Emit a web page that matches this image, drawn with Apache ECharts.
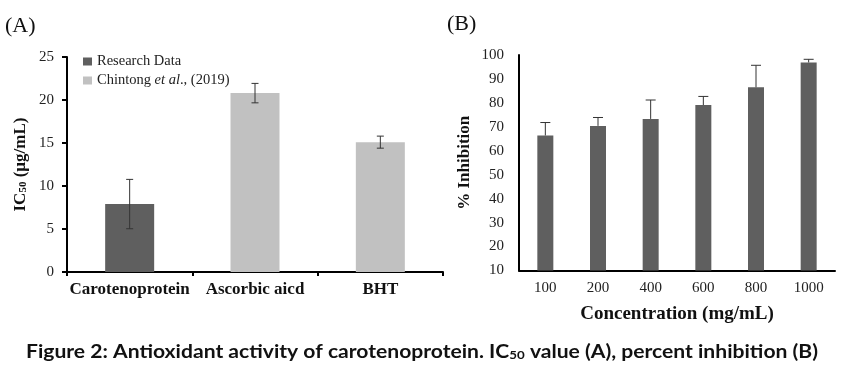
<!DOCTYPE html>
<html><head><meta charset="utf-8">
<script src="https://cdn.jsdelivr.net/npm/echarts@6/dist/echarts.min.js"></script>
<style>html,body{margin:0;padding:0;background:#fff}#c{width:844px;height:380px}</style>
</head><body><div id="c"></div>
<script>
// Panel A data
const catsA = ['Carotenoprotein', 'Ascorbic aicd', 'BHT'];
const researchData = [7.9, '-', '-'];
const chintongData = ['-', 20.8, 15.1];
const errA = [2.87, 1.13, 0.7];
const valsA = [7.9, 20.8, 15.1];
const ticksA = [0, 5, 10, 15, 20, 25];
// Panel B data
const catsB = ['100', '200', '400', '600', '800', '1000'];
const inhibition = [66.4, 70.4, 73.3, 79.1, 86.5, 96.9];
const errB = [5.4, 3.5, 7.9, 3.6, 9.2, 1.3];
const ticksB = [10, 20, 30, 40, 50, 60, 70, 80, 90, 100];

const SERIF = 'Liberation Serif';
const chart = echarts.init(document.getElementById('c'), null, {renderer: 'canvas'});

function errRender(capW, upperOnly) {
  return function (params, api) {
    const x = api.value(0), lo = api.value(1), hi = api.value(2);
    const pHi = api.coord([x, hi]);
    const pLo = api.coord([x, lo]);
    const st = {stroke: '#333', lineWidth: 1};
    const ch = [
      {type: 'line', shape: {x1: pHi[0], y1: pHi[1], x2: pLo[0], y2: pLo[1]}, style: st},
      {type: 'line', shape: {x1: pHi[0] - capW / 2, y1: pHi[1], x2: pHi[0] + capW / 2, y2: pHi[1]}, style: st}
    ];
    if (!upperOnly) ch.push({type: 'line', shape: {x1: pLo[0] - capW / 2, y1: pLo[1], x2: pLo[0] + capW / 2, y2: pLo[1]}, style: st});
    return {type: 'group', children: ch};
  };
}

// caption measuring
const capFont = 'bold 19px Lato';
const ctx = document.createElement('canvas').getContext('2d');
const capParts = ['Figure 2: Antioxidant activity of carotenoprotein. IC', '50', ' value (A), percent inhibition (B)'];
ctx.font = capFont;
let w1 = ctx.measureText(capParts[0]).width + ctx.measureText(capParts[2]).width;
ctx.font = 'bold 12px Lato';
w1 += ctx.measureText(capParts[1]).width;
const capScale = 792 / w1;

const legTS = {fontFamily: SERIF, fontSize: 14.5, color: '#222'};
const option = {
  animation: false,
  backgroundColor: '#fff',
  textStyle: {fontFamily: SERIF},
  legend: {
    left: 78, top: 49, orient: 'vertical', itemWidth: 9, itemHeight: 8, itemGap: 4,
    icon: 'rect',
    data: ['Research Data', 'Chintong'],
    formatter: function (n) { return n === 'Chintong' ? '{n|Chintong }{i|et al}{n|., (2019)}' : n; },
    textStyle: Object.assign({}, legTS, {
      rich: {n: legTS, i: Object.assign({}, legTS, {fontStyle: 'italic'})}})
  },
  grid: [
    {left: 67, top: 57, width: 376, height: 215},
    {left: 519, top: 55, width: 316, height: 215.5}
  ],
  xAxis: [
    {gridIndex: 0, type: 'category', data: catsA,
      axisLine: {lineStyle: {color: '#000', width: 2}},
      axisTick: {show: true, length: 4, lineStyle: {color: '#000', width: 2}},
      axisLabel: {interval: 0, fontFamily: SERIF, fontWeight: 'bold', fontSize: 17, color: '#111', margin: 9}},
    {gridIndex: 1, type: 'category', data: catsB,
      name: 'Concentration (mg/mL)', nameLocation: 'middle', nameGap: 34,
      nameTextStyle: {fontFamily: SERIF, fontWeight: 'bold', fontSize: 19, color: '#111'},
      axisLine: {lineStyle: {color: '#000', width: 2}},
      axisTick: {show: false},
      axisLabel: {interval: 0, fontFamily: SERIF, fontSize: 15, color: '#222', margin: 10}}
  ],
  yAxis: [
    {gridIndex: 0, type: 'value', min: ticksA[0], max: ticksA[ticksA.length - 1], interval: 5,
      name: '{b|IC}{s|50}{b| (µg/mL)}', nameLocation: 'middle', nameGap: 38, nameRotate: 90,
      nameTextStyle: {rich: {
        b: {fontFamily: SERIF, fontWeight: 'bold', fontSize: 17, color: '#111'},
        s: {fontFamily: SERIF, fontWeight: 'bold', fontSize: 11, color: '#111', verticalAlign: 'bottom', padding: [6, 0, 0, 0]}}},
      splitLine: {show: false},
      axisLine: {show: true, lineStyle: {color: '#000', width: 2}},
      axisTick: {show: true, length: 5, lineStyle: {color: '#000', width: 2}},
      axisLabel: {fontFamily: SERIF, fontSize: 15, color: '#222', margin: 13}},
    {gridIndex: 1, type: 'value', min: ticksB[0], max: ticksB[ticksB.length - 1], interval: 10,
      name: '% Inhibition', nameLocation: 'middle', nameGap: 46, nameRotate: 90,
      nameTextStyle: {fontFamily: SERIF, fontWeight: 'bold', fontSize: 17, color: '#111'},
      splitLine: {show: false},
      axisLine: {show: true, lineStyle: {color: '#000', width: 2}},
      axisTick: {show: false},
      axisLabel: {fontFamily: SERIF, fontSize: 15, color: '#222', margin: 15}}
  ],
  series: [
    {name: 'Research Data', type: 'bar', xAxisIndex: 0, yAxisIndex: 0, data: researchData,
      barWidth: 49, barGap: '-100%', itemStyle: {color: '#5f5f5f'}},
    {name: 'Chintong', type: 'bar', xAxisIndex: 0, yAxisIndex: 0, data: chintongData,
      barWidth: 49, itemStyle: {color: '#c1c1c1'}},
    {type: 'custom', xAxisIndex: 0, yAxisIndex: 0, z: 5,
      data: valsA.map((v, i) => [i, v - errA[i], v + errA[i]]),
      renderItem: errRender(7, false)},
    {name: 'Inhibition', type: 'bar', xAxisIndex: 1, yAxisIndex: 1, data: inhibition,
      barWidth: 16, itemStyle: {color: '#5f5f5f'}},
    {type: 'custom', xAxisIndex: 1, yAxisIndex: 1, z: 5,
      data: inhibition.map((v, i) => [i, v, v + errB[i]]),
      renderItem: errRender(10, true)}
  ],
  graphic: [
    {type: 'text', left: 5, top: 15, style: {text: '(A)', font: '22px ' + SERIF, fill: '#111'}},
    {type: 'text', left: 447, top: 13, style: {text: '(B)', font: '22px ' + SERIF, fill: '#111'}},
    {type: 'text', x: 26, y: 342, scaleX: capScale, style: {
      text: '{b|' + capParts[0] + '}{s|' + capParts[1] + '}{b|' + capParts[2] + '}',
      rich: {b: {fontFamily: 'Lato', fontWeight: 'bold', fontSize: 19, fill: '#111'},
        s: {fontFamily: 'Lato', fontWeight: 'bold', fontSize: 12, fill: '#111', verticalAlign: 'bottom', padding: [7, 0, 0, 0]}}}}
  ]
};
chart.setOption(option);
</script></body></html>
